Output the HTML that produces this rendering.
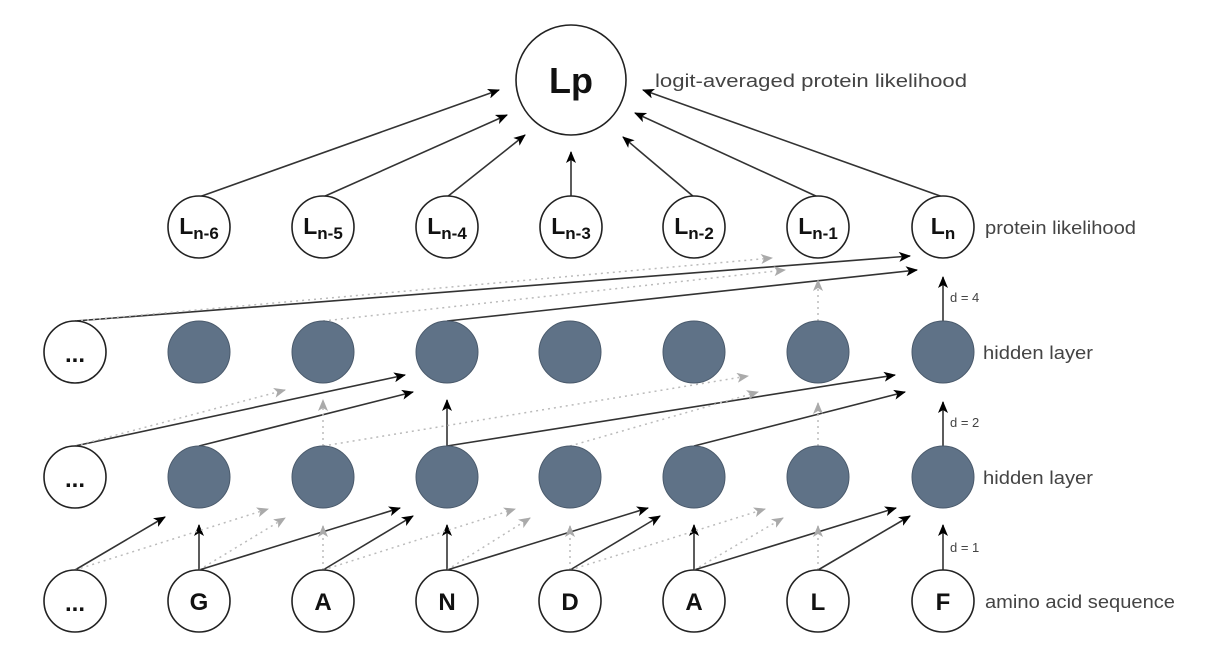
<!DOCTYPE html>
<html><head><meta charset="utf-8"><style>
html,body{margin:0;padding:0;background:#fff;}
svg{display:block;}
text{font-family:"Liberation Sans",Arial,sans-serif;}
</style></head><body>
<svg width="1218" height="668" viewBox="0 0 1218 668" xmlns="http://www.w3.org/2000/svg">
<defs>
<marker id="a" viewBox="0 0 12 10" refX="11" refY="5" markerWidth="12" markerHeight="10" markerUnits="userSpaceOnUse" orient="auto"><path d="M0,0 L12,5 L0,10 L3,5 z" fill="#000"/></marker>
<marker id="g" viewBox="0 0 12 10" refX="11" refY="5" markerWidth="12" markerHeight="10" markerUnits="userSpaceOnUse" orient="auto"><path d="M0,0 L12,5 L0,10 L3,5 z" fill="#aaa"/></marker>
</defs>
<g stroke="#333" stroke-width="1.6" fill="none" marker-end="url(#a)">
<line x1="199" y1="197" x2="499" y2="90"/>
<line x1="323" y1="197" x2="507" y2="115"/>
<line x1="447" y1="197" x2="525" y2="135"/>
<line x1="571" y1="196" x2="571" y2="152"/>
<line x1="694" y1="197" x2="623" y2="137"/>
<line x1="818" y1="197" x2="635" y2="113"/>
<line x1="943" y1="197" x2="643" y2="90"/>
<line x1="75" y1="321" x2="910" y2="256"/>
<line x1="447" y1="321" x2="917" y2="270"/>
<line x1="943" y1="321" x2="943" y2="277"/>
<line x1="75" y1="446" x2="405" y2="375"/>
<line x1="199" y1="446" x2="413" y2="392"/>
<line x1="447" y1="446" x2="447" y2="400"/>
<line x1="447" y1="446" x2="895" y2="375"/>
<line x1="694" y1="446" x2="905" y2="392"/>
<line x1="943" y1="446" x2="943" y2="402"/>
<line x1="75" y1="570" x2="165" y2="517"/>
<line x1="199" y1="570" x2="199" y2="525"/>
<line x1="199" y1="570" x2="400" y2="508"/>
<line x1="323" y1="570" x2="413" y2="516"/>
<line x1="447" y1="570" x2="447" y2="525"/>
<line x1="447" y1="570" x2="648" y2="508"/>
<line x1="570" y1="570" x2="660" y2="516"/>
<line x1="694" y1="570" x2="694" y2="525"/>
<line x1="694" y1="570" x2="896" y2="508"/>
<line x1="818" y1="570" x2="910" y2="516"/>
<line x1="943" y1="570" x2="943" y2="525"/>
</g>
<g stroke="#bbb" stroke-width="1.5" stroke-dasharray="2,4" fill="none" marker-end="url(#g)">
<line x1="75" y1="321" x2="772" y2="258"/>
<line x1="323" y1="321" x2="785" y2="270"/>
<line x1="818" y1="321" x2="818" y2="280"/>
<line x1="75" y1="446" x2="285" y2="390"/>
<line x1="323" y1="446" x2="323" y2="400"/>
<line x1="323" y1="446" x2="748" y2="376"/>
<line x1="570" y1="446" x2="758" y2="392"/>
<line x1="818" y1="446" x2="818" y2="403"/>
<line x1="75" y1="570" x2="268" y2="509"/>
<line x1="199" y1="570" x2="285" y2="518"/>
<line x1="323" y1="570" x2="323" y2="526"/>
<line x1="323" y1="570" x2="515" y2="509"/>
<line x1="447" y1="570" x2="530" y2="518"/>
<line x1="570" y1="570" x2="570" y2="526"/>
<line x1="570" y1="570" x2="765" y2="509"/>
<line x1="694" y1="570" x2="783" y2="518"/>
<line x1="818" y1="570" x2="818" y2="526"/>
</g>
<circle cx="571" cy="80" r="55" fill="#fff" stroke="#222" stroke-width="1.6"/>
<text x="571" y="93" font-size="36" font-weight="bold" text-anchor="middle" fill="#111">Lp</text>
<text x="655" y="87" font-size="18" fill="#444" textLength="312" lengthAdjust="spacingAndGlyphs">logit-averaged protein likelihood</text>
<g fill="#fff" stroke="#222" stroke-width="1.6">
<circle cx="199" cy="227" r="31"/><circle cx="323" cy="227" r="31"/><circle cx="447" cy="227" r="31"/><circle cx="571" cy="227" r="31"/><circle cx="694" cy="227" r="31"/><circle cx="818" cy="227" r="31"/><circle cx="943" cy="227" r="31"/>
</g>
<g font-size="23" font-weight="bold" fill="#111" text-anchor="middle">
<text x="199" y="234">L<tspan font-size="17" dy="5">n-6</tspan></text>
<text x="323" y="234">L<tspan font-size="17" dy="5">n-5</tspan></text>
<text x="447" y="234">L<tspan font-size="17" dy="5">n-4</tspan></text>
<text x="571" y="234">L<tspan font-size="17" dy="5">n-3</tspan></text>
<text x="694" y="234">L<tspan font-size="17" dy="5">n-2</tspan></text>
<text x="818" y="234">L<tspan font-size="17" dy="5">n-1</tspan></text>
<text x="943" y="234">L<tspan font-size="17" dy="5">n</tspan></text>
</g>
<text x="985" y="234" font-size="18" fill="#444" textLength="151" lengthAdjust="spacingAndGlyphs">protein likelihood</text>
<g fill="#5f7287" stroke="#4a5a6c" stroke-width="1">
<circle cx="199" cy="352" r="31"/><circle cx="323" cy="352" r="31"/><circle cx="447" cy="352" r="31"/><circle cx="570" cy="352" r="31"/><circle cx="694" cy="352" r="31"/><circle cx="818" cy="352" r="31"/><circle cx="943" cy="352" r="31"/>
<circle cx="199" cy="477" r="31"/><circle cx="323" cy="477" r="31"/><circle cx="447" cy="477" r="31"/><circle cx="570" cy="477" r="31"/><circle cx="694" cy="477" r="31"/><circle cx="818" cy="477" r="31"/><circle cx="943" cy="477" r="31"/>
</g>
<g fill="#fff" stroke="#222" stroke-width="1.6">
<circle cx="75" cy="352" r="31"/><circle cx="75" cy="477" r="31"/>
<circle cx="75" cy="601" r="31"/><circle cx="199" cy="601" r="31"/><circle cx="323" cy="601" r="31"/><circle cx="447" cy="601" r="31"/><circle cx="570" cy="601" r="31"/><circle cx="694" cy="601" r="31"/><circle cx="818" cy="601" r="31"/><circle cx="943" cy="601" r="31"/>
</g>
<g font-size="24" font-weight="bold" fill="#111" text-anchor="middle">
<text x="75" y="362">...</text><text x="75" y="487">...</text><text x="75" y="611">...</text>
<text x="199" y="610">G</text><text x="323" y="610">A</text><text x="447" y="610">N</text><text x="570" y="610">D</text><text x="694" y="610">A</text><text x="818" y="610">L</text><text x="943" y="610">F</text>
</g>
<g font-size="18" fill="#444">
<text x="983" y="359" textLength="110" lengthAdjust="spacingAndGlyphs">hidden layer</text>
<text x="983" y="484" textLength="110" lengthAdjust="spacingAndGlyphs">hidden layer</text>
<text x="985" y="608" textLength="190" lengthAdjust="spacingAndGlyphs">amino acid sequence</text>
</g>
<g font-size="13" fill="#444">
<text x="950" y="302">d = 4</text>
<text x="950" y="427">d = 2</text>
<text x="950" y="552">d = 1</text>
</g>
</svg>
</body></html>
